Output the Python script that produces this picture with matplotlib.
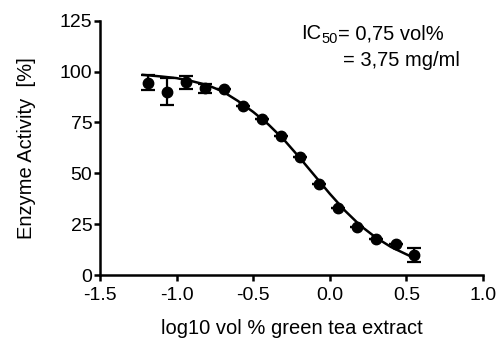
import matplotlib
matplotlib.use("Agg")
import matplotlib.pyplot as plt

plt.rcParams['font.family'] = ['Liberation Sans', 'DejaVu Sans']

# measured points (log10 vol %, activity %)
log_conc = [-1.185, -1.065, -0.94, -0.815, -0.689, -0.564, -0.44, -0.318,
            -0.195, -0.07, 0.056, 0.18, 0.302, 0.43, 0.552]
activity = [94.6, 90.2, 94.7, 91.8, 91.3, 83.1, 76.7, 68.4,
            57.9, 44.8, 32.8, 23.8, 17.6, 15.1, 9.8]
err = [3.5, 6.6, 3.3, 2.2, 0, 0, 0, 0, 0, 0, 0, 0, 0, 0, 3.3]

# fitted curve
fit_x = [-1.22, -1.1, -1.0, -0.9, -0.8, -0.7, -0.6, -0.5, -0.4, -0.3,
         -0.2, -0.1, 0.0, 0.1, 0.2, 0.3, 0.4, 0.5, 0.55]
fit_y = [98.4, 97.6, 96.8, 95.3, 93.4, 90.3, 85.6, 80.2, 74.0, 66.6,
         58.0, 49.0, 40.0, 31.6, 24.3, 18.5, 13.8, 10.2, 8.5]

xticks = [-1.5, -1.0, -0.5, 0.0, 0.5, 1.0]
yticks = [0, 25, 50, 75, 100, 125]

fig = plt.figure(figsize=(4.96, 3.4), dpi=100)
ax = fig.add_axes([0.2016, 0.191, 0.772, 0.748])

ax.plot(fit_x, fit_y, color='black', lw=1.8, zorder=2)
ax.errorbar(log_conc, activity, yerr=err, fmt='o', color='black',
            ms=7.5, capsize=5, elinewidth=1.6, capthick=1.6, zorder=3)

ax.set_xlim(-1.5, 1.0)
ax.set_ylim(0, 125)
ax.set_xticks(xticks)
ax.set_xticklabels(['%.1f' % v for v in xticks])
ax.set_yticks(yticks)

for s in ['top', 'right']:
    ax.spines[s].set_visible(False)
for s in ['left', 'bottom']:
    ax.spines[s].set_linewidth(1.8)
ax.tick_params(width=1.8, length=4.5, labelsize=14)
ax.tick_params(axis='x', pad=4)
ax.tick_params(axis='y', pad=1)

ax.set_xlabel('log10 vol % green tea extract', fontsize=14.5, labelpad=11)
ax.set_ylabel('Enzyme Activity  [%]', fontsize=14.5, labelpad=17)

# IC50 annotation, built in pieces so the subscript sits like the original
t1 = fig.text(0.608, 0.885, 'IC', fontsize=14.5, ha='left', va='baseline')
t2 = ax.annotate('50', xy=(1.0, 0.0), xycoords=t1, fontsize=10.5,
                 ha='left', va='baseline', annotation_clip=False)
t3 = ax.annotate('= 0,75 vol%', xy=(1.0, 0.0), xycoords=(t2, t1),
                 fontsize=14.5, ha='left', va='bottom', annotation_clip=False)
fig.text(0.927, 0.806, '= 3,75 mg/ml', fontsize=14.5, ha='right',
         va='baseline')

fig.savefig('out.png', dpi=100)
